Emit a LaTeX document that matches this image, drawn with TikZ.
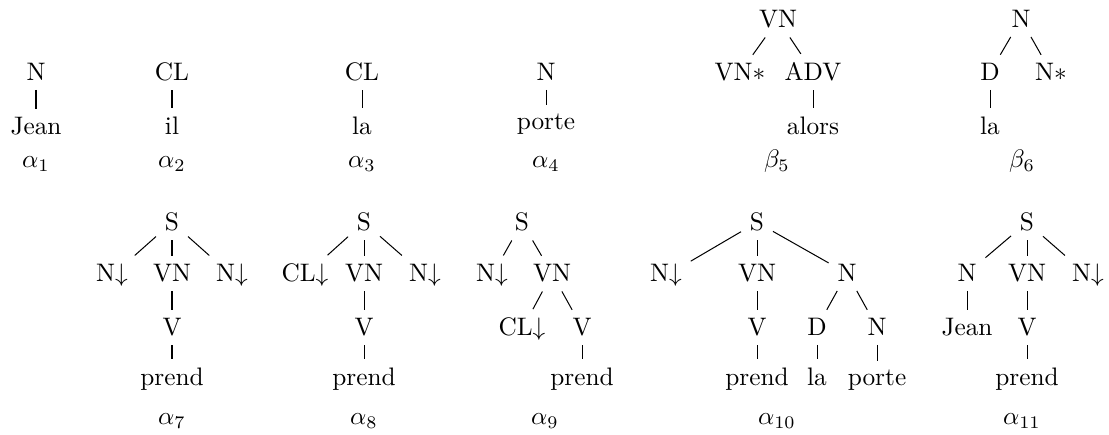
\documentclass[tikz,border=0pt]{standalone}
\begin{document}
\begin{tikzpicture}[
    x=0.395pt, y=-0.395pt,
    tnode/.style={anchor=base, inner sep=0.3333em},
    tname/.style={anchor=base, inner sep=0pt},
    branch/.style={line width=0.4pt},
]
\useasboundingbox (0,0) rectangle (1109,435);

% alpha_1 .. alpha_4 : one branch each
\node[tnode] (a1n) at (36,81) {N};
\node[tnode] (a1w) at (36,135) {Jean};
\node[tname] (a1) at (36,168) {$\alpha_1$};
\draw[branch] (a1n) -- (a1w);

\node[tnode] (a2cl) at (172,81) {CL};
\node[tnode] (a2w) at (172,135) {il};
\node[tname] (a2) at (172,168) {$\alpha_2$};
\draw[branch] (a2cl) -- (a2w);

\node[tnode] (a3cl) at (362,81) {CL};
\node[tnode] (a3w) at (362,135) {la};
\node[tname] (a3) at (362,168) {$\alpha_3$};
\draw[branch] (a3cl) -- (a3w);

\node[tnode] (a4n) at (546,81) {N};
\node[tnode] (a4w) at (546,130) {porte};
\node[tname] (a4) at (546,168) {$\alpha_4$};
\draw[branch] (a4n) -- (a4w);

% beta_5 : adverb on VN
\node[tnode] (b5vn) at (778,28) {VN};
\node[tnode] (b5foot) at (740,81) {VN$\ast$};
\node[tnode] (b5adv) at (813,81) {ADV};
\node[tnode] (b5w) at (813,135) {alors};
\node[tname] (b5) at (777,168) {$\beta_5$};
\draw[branch] (b5vn) -- (b5foot);
\draw[branch] (b5vn) -- (b5adv);
\draw[branch] (b5adv) -- (b5w);

% beta_6 : determiner on N
\node[tnode] (b6n) at (1021,28) {N};
\node[tnode] (b6d) at (990,81) {D};
\node[tnode] (b6foot) at (1051,81) {N$\ast$};
\node[tnode] (b6w) at (990,135) {la};
\node[tname] (b6) at (1022,168) {$\beta_6$};
\draw[branch] (b6n) -- (b6d);
\draw[branch] (b6n) -- (b6foot);
\draw[branch] (b6d) -- (b6w);

% alpha_7 : N prend N
\node[tnode] (a7s) at (172,231) {S};
\node[tnode] (a7subj) at (112,282) {N$\downarrow$};
\node[tnode] (a7vn) at (172,282) {VN};
\node[tnode] (a7obj) at (232,282) {N$\downarrow$};
\node[tnode] (a7v) at (172,336) {V};
\node[tnode] (a7w) at (172,386) {prend};
\node[tname] (a7) at (172,425) {$\alpha_7$};
\draw[branch] (a7s) -- (a7subj);
\draw[branch] (a7s) -- (a7vn);
\draw[branch] (a7s) -- (a7obj);
\draw[branch] (a7vn) -- (a7v);
\draw[branch] (a7v) -- (a7w);

% alpha_8 : CL prend N
\node[tnode] (a8s) at (364,231) {S};
\node[tnode] (a8subj) at (305,282) {CL$\downarrow$};
\node[tnode] (a8vn) at (364,282) {VN};
\node[tnode] (a8obj) at (425,282) {N$\downarrow$};
\node[tnode] (a8v) at (364,336) {V};
\node[tnode] (a8w) at (364,386) {prend};
\node[tname] (a8) at (364,425) {$\alpha_8$};
\draw[branch] (a8s) -- (a8subj);
\draw[branch] (a8s) -- (a8vn);
\draw[branch] (a8s) -- (a8obj);
\draw[branch] (a8vn) -- (a8v);
\draw[branch] (a8v) -- (a8w);

% alpha_9 : N CL prend
\node[tnode] (a9s) at (522,231) {S};
\node[tnode] (a9subj) at (492,282) {N$\downarrow$};
\node[tnode] (a9vn) at (552,282) {VN};
\node[tnode] (a9cl) at (522,336) {CL$\downarrow$};
\node[tnode] (a9v) at (582,336) {V};
\node[tnode] (a9w) at (582,386) {prend};
\node[tname] (a9) at (545,425) {$\alpha_9$};
\draw[branch] (a9s) -- (a9subj);
\draw[branch] (a9s) -- (a9vn);
\draw[branch] (a9vn) -- (a9cl);
\draw[branch] (a9vn) -- (a9v);
\draw[branch] (a9v) -- (a9w);

% alpha_10 : N prend la porte
\node[tnode] (a10s) at (757,231) {S};
\node[tnode] (a10subj) at (666,282) {N$\downarrow$};
\node[tnode] (a10vn) at (757,282) {VN};
\node[tnode] (a10obj) at (847,282) {N};
\node[tnode] (a10v) at (757,336) {V};
\node[tnode] (a10d) at (817,336) {D};
\node[tnode] (a10n) at (877,336) {N};
\node[tnode] (a10w) at (757,386) {prend};
\node[tnode] (a10det) at (817,386) {la};
\node[tnode] (a10noun) at (877,386) {porte};
\node[tname] (a10) at (777,425) {$\alpha_{10}$};
\draw[branch] (a10s) -- (a10subj);
\draw[branch] (a10s) -- (a10vn);
\draw[branch] (a10s) -- (a10obj);
\draw[branch] (a10vn) -- (a10v);
\draw[branch] (a10obj) -- (a10d);
\draw[branch] (a10obj) -- (a10n);
\draw[branch] (a10v) -- (a10w);
\draw[branch] (a10d) -- (a10det);
\draw[branch] (a10n) -- (a10noun);

% alpha_11 : Jean prend N
\node[tnode] (a11s) at (1027,231) {S};
\node[tnode] (a11subj) at (967,282) {N};
\node[tnode] (a11vn) at (1027,282) {VN};
\node[tnode] (a11obj) at (1088,282) {N$\downarrow$};
\node[tnode] (a11jean) at (967,336) {Jean};
\node[tnode] (a11v) at (1027,336) {V};
\node[tnode] (a11w) at (1027,386) {prend};
\node[tname] (a11) at (1022,425) {$\alpha_{11}$};
\draw[branch] (a11s) -- (a11subj);
\draw[branch] (a11s) -- (a11vn);
\draw[branch] (a11s) -- (a11obj);
\draw[branch] (a11subj) -- (a11jean);
\draw[branch] (a11vn) -- (a11v);
\draw[branch] (a11v) -- (a11w);

\end{tikzpicture}
\end{document}
